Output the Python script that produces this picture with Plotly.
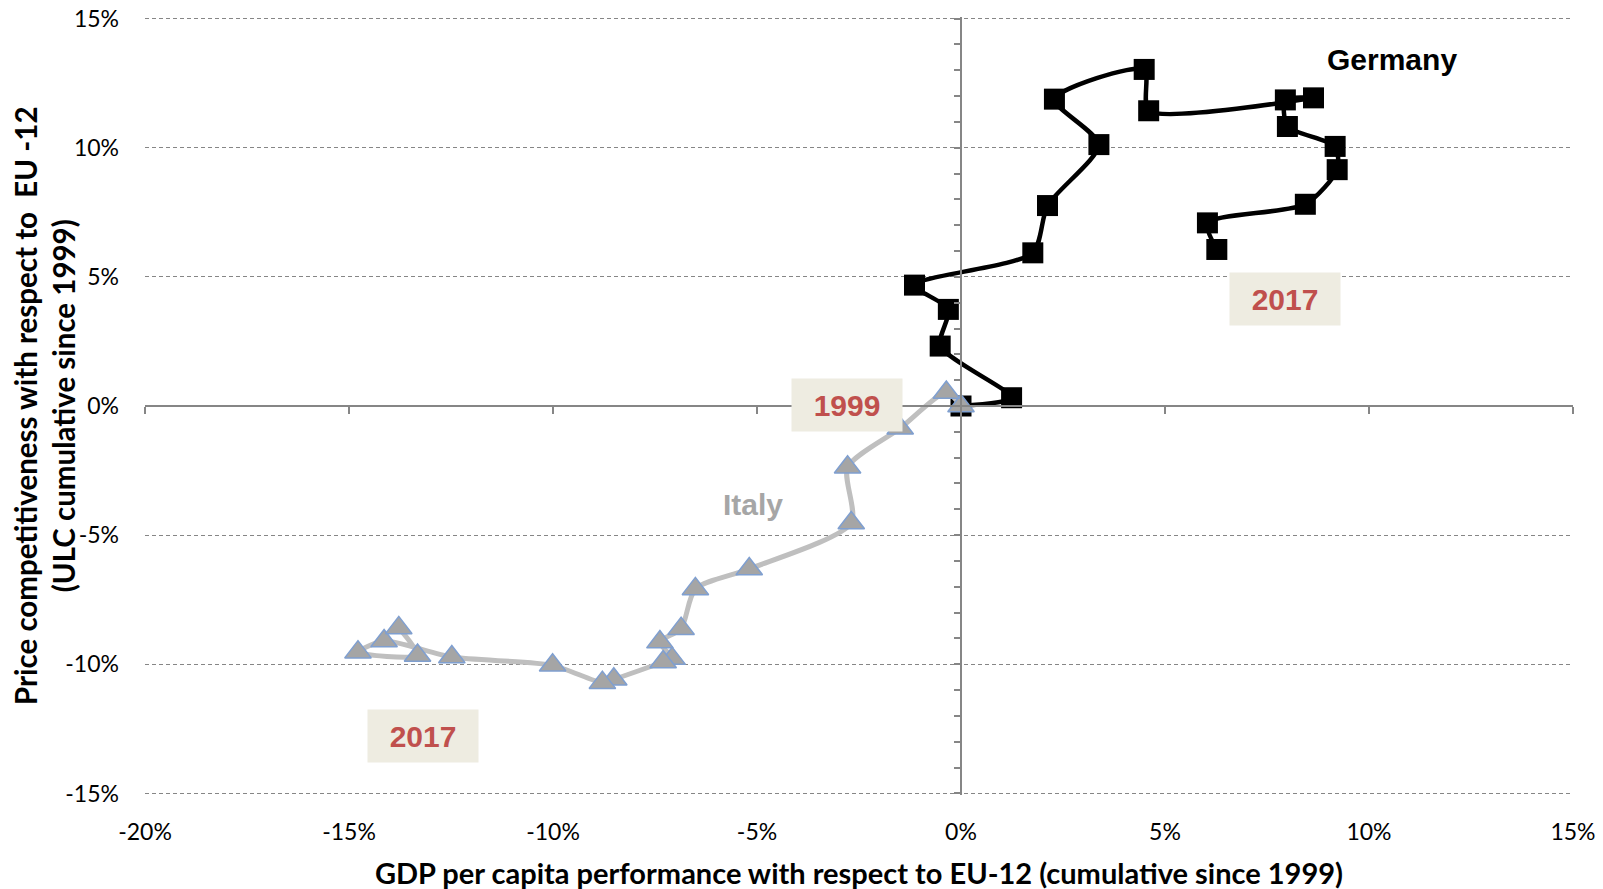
import plotly.graph_objects as go

years = list(range(1999, 2018))
germany_x = [0.00, 1.24, -0.51, -0.31, -1.14, 1.76, 2.12, 3.38, 2.29, 4.49, 4.60, 8.64, 7.95, 8.00, 9.17, 9.22, 8.44, 6.04, 6.27]
germany_y = [0.00, 0.32, 2.32, 3.74, 4.68, 5.93, 7.76, 10.12, 11.88, 13.03, 11.43, 11.93, 11.85, 10.82, 10.05, 9.15, 7.81, 7.09, 6.06]
italy_x = [0.00, -0.36, -1.49, -2.78, -2.69, -5.19, -6.51, -6.86, -7.38, -7.08, -7.30, -8.51, -8.79, -10.01, -12.48, -14.14, -14.78, -13.32, -13.78]
italy_y = [0.00, 0.52, -0.86, -2.37, -4.53, -6.31, -7.08, -8.62, -9.14, -9.78, -9.91, -10.58, -10.71, -10.04, -9.72, -9.10, -9.53, -9.66, -8.59]

x_ticks = [-20, -15, -10, -5, 0, 5, 10, 15]
y_ticks = [-15, -10, -5, 0, 5, 10, 15]
x_range = [-20, 15]
y_range = [-15.06, 15.06]   # tiny padding so the ±15% gridlines are drawn

AXIS = "#868686"
TICKFONT = dict(family="Lato, Calibri, sans-serif", size=23, color="#000000")
TITLEFONT = dict(family="Lato, Calibri, sans-serif", size=29, color="#000000")
LABELFONT = "Liberation Sans, Arial, sans-serif"

fig = go.Figure()

fig.add_trace(go.Scatter(
    x=germany_x, y=germany_y, mode="lines+markers", name="Germany",
    text=years, line=dict(color="#000000", width=4.5, shape="spline", smoothing=0.7),
    marker=dict(symbol="square", size=21, color="#000000"),
    showlegend=False,
))
fig.add_trace(go.Scatter(
    x=italy_x, y=italy_y, mode="lines+markers", name="Italy",
    text=years, line=dict(color="#BFBFBF", width=5, shape="spline", smoothing=0.7),
    marker=dict(symbol="triangle-up", size=23, color="#A5A5A5",
                line=dict(color="#7F9FD0", width=1.5)),
    showlegend=False,
))
# invisible trace that carries the crossing axes
fig.add_trace(go.Scatter(x=[None], y=[None], xaxis="x2", yaxis="y2",
                         showlegend=False, hoverinfo="skip"))

fig.update_layout(
    width=1603, height=889,
    margin=dict(l=145, r=30, t=16.5, b=93.5),
    paper_bgcolor="white", plot_bgcolor="white",
    xaxis=dict(range=x_range, tickvals=x_ticks, ticktext=[f"{v}%" for v in x_ticks],
               showgrid=False, zeroline=False, showline=False, ticks="",
               tickfont=TICKFONT, ticklabelstandoff=21, automargin=False,
               ticklabeloverflow="allow"),
    yaxis=dict(range=y_range, tickvals=y_ticks, ticktext=[f"{v}%" for v in y_ticks],
               showgrid=True, gridcolor=AXIS, gridwidth=1, griddash="4px,3px",
               zeroline=False, showline=False, ticks="",
               tickfont=TICKFONT, ticklabelstandoff=25, automargin=False,
               ticklabeloverflow="allow"),
    xaxis2=dict(range=x_range, overlaying="x", anchor="free", position=0.5,
                side="bottom", showline=True, linecolor=AXIS, linewidth=1.5,
                ticks="outside", ticklen=7, tickcolor=AXIS, tickwidth=1.5,
                tick0=0, dtick=5, showticklabels=False, showgrid=False, zeroline=False,
                automargin=False),
    yaxis2=dict(range=y_range, overlaying="y", anchor="free", position=20 / 35,
                side="left", showline=True, linecolor=AXIS, linewidth=1.5,
                ticks="outside", ticklen=6, tickcolor=AXIS, tickwidth=1.5,
                tickvals=list(range(-15, 16)), showticklabels=False,
                showgrid=False, zeroline=False, automargin=False),
)

annotations = [
    dict(x=0.5, y=0, xref="paper", yref="paper", yshift=-77.5, yanchor="middle",
         text="<b>GDP per capita performance with respect to EU-12 (cumulative since 1999)</b>",
         showarrow=False, font=TITLEFONT),
    dict(x=0, y=0.5, xref="paper", yref="paper", xshift=-101, xanchor="center",
         textangle=-90,
         text="<b>Price competitiveness with respect to  EU -12<br>(ULC cumulative since 1999)</b>",
         showarrow=False, font=dict(TITLEFONT, size=29.5)),
    dict(x=10.57, y=13.42, text="<b>Germany</b>", showarrow=False,
         font=dict(family=LABELFONT, size=30, color="#000000")),
    dict(x=-5.11, y=-3.82, text="<b>Italy</b>", showarrow=False,
         font=dict(family=LABELFONT, size=30, color="#A6A6A6")),
]
for (bx, by, label) in [(-2.79, 0.05, "1999"), (7.94, 4.14, "2017"), (-13.18, -12.79, "2017")]:
    annotations.append(dict(x=bx, y=by, text=f"<b>{label}</b>", showarrow=False,
                            bgcolor="#EEECE1", width=110, height=52, borderpad=0,
                            font=dict(family=LABELFONT, size=30, color="#C0504D")))
fig.update_layout(annotations=annotations)

# remove the default page margin so the figure fills the window exactly
fig.write_html("out.html", config={"displayModeBar": False},
               post_script="document.body.style.margin='0';")
